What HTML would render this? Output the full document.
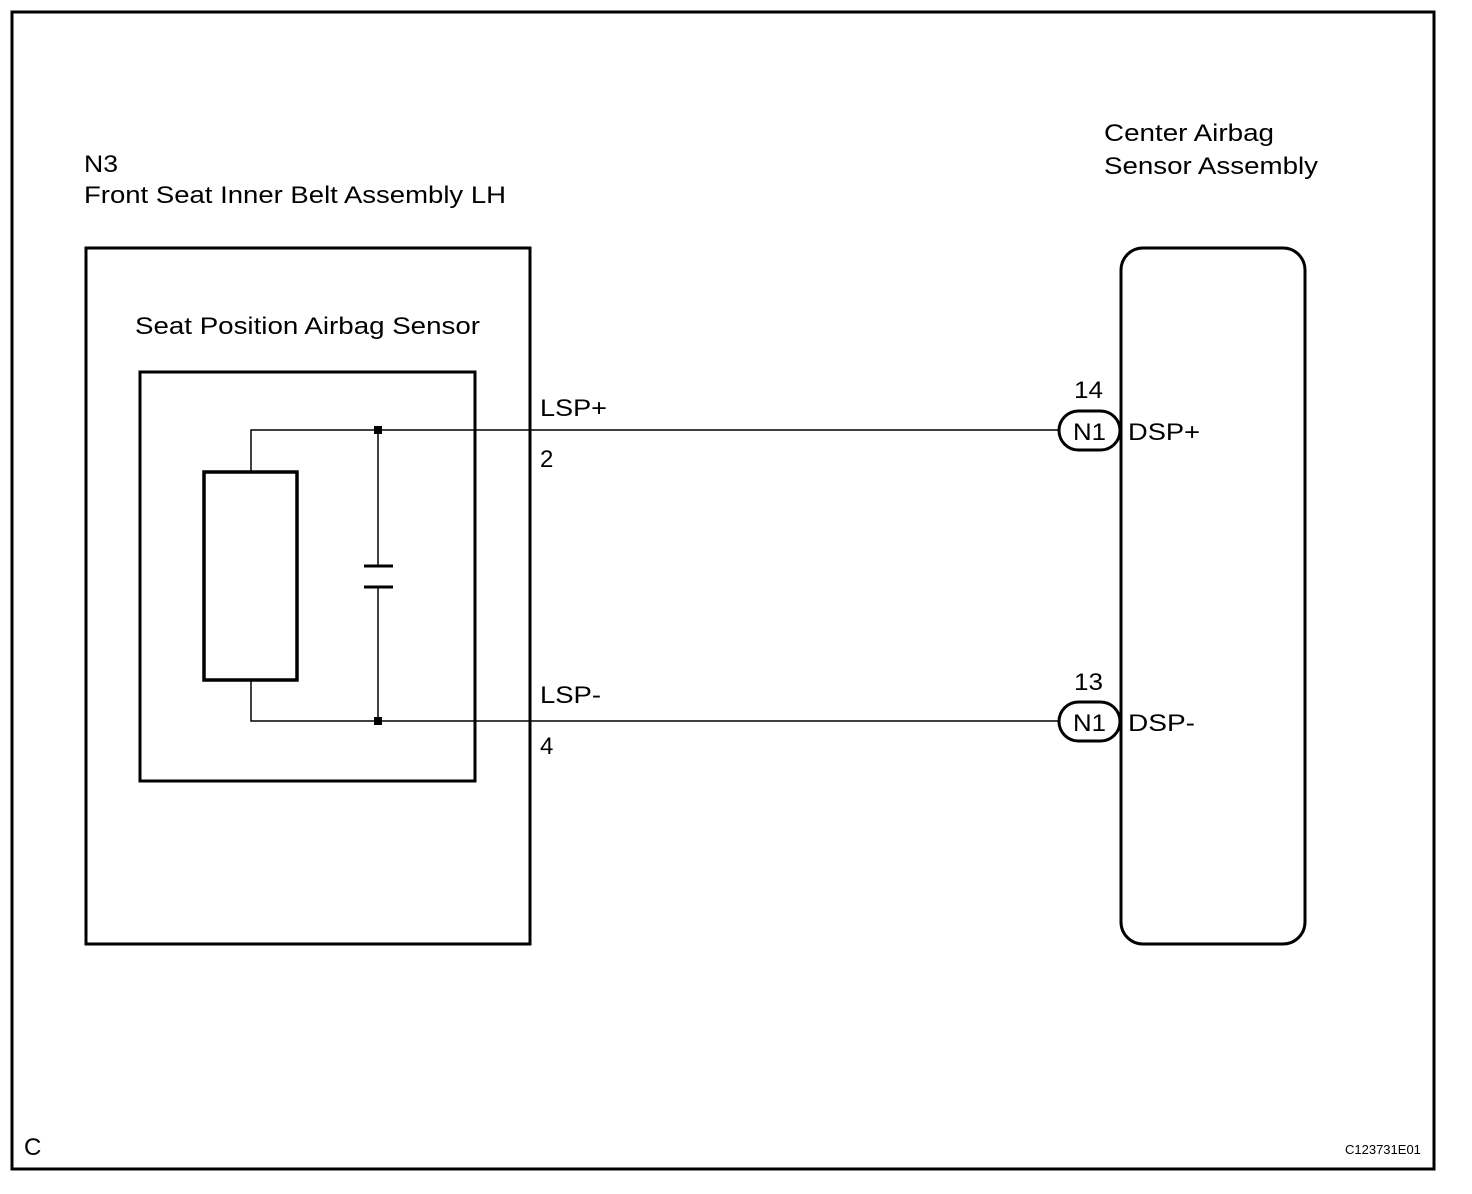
<!DOCTYPE html>
<html><head><meta charset="utf-8"><style>
html,body{margin:0;padding:0;background:#fff}
svg{display:block}
text{font-family:"Liberation Sans",Arial,sans-serif;fill:#000}
</style></head><body>
<svg width="1472" height="1194" viewBox="0 0 1472 1194" xmlns="http://www.w3.org/2000/svg">
<rect x="0" y="0" width="1472" height="1194" fill="#fff"/>
<rect x="12" y="12" width="1422" height="1157" fill="none" stroke="#000" stroke-width="3"/>
<g font-size="24">
<text x="84" y="172" textLength="34" lengthAdjust="spacingAndGlyphs">N3</text>
<text x="84" y="203" textLength="422" lengthAdjust="spacingAndGlyphs">Front Seat Inner Belt Assembly LH</text>
<text x="1104" y="141" textLength="170" lengthAdjust="spacingAndGlyphs">Center Airbag</text>
<text x="1104" y="174" textLength="214" lengthAdjust="spacingAndGlyphs">Sensor Assembly</text>
<text x="135" y="334" textLength="345" lengthAdjust="spacingAndGlyphs">Seat Position Airbag Sensor</text>
<text x="540" y="416" textLength="67" lengthAdjust="spacingAndGlyphs">LSP+</text>
<text x="540" y="467">2</text>
<text x="540" y="703" textLength="61" lengthAdjust="spacingAndGlyphs">LSP-</text>
<text x="540" y="754">4</text>
<text x="1074" y="398" textLength="29" lengthAdjust="spacingAndGlyphs">14</text>
<text x="1074" y="690" textLength="29" lengthAdjust="spacingAndGlyphs">13</text>
<text x="1128" y="440" textLength="72" lengthAdjust="spacingAndGlyphs">DSP+</text>
<text x="1128" y="731" textLength="67" lengthAdjust="spacingAndGlyphs">DSP-</text>
<text x="24" y="1155">C</text>
</g>
<text x="1345" y="1154" font-size="13">C123731E01</text>
<rect x="86" y="248" width="444" height="696" fill="none" stroke="#000" stroke-width="3"/>
<rect x="140" y="372" width="335" height="409" fill="none" stroke="#000" stroke-width="3"/>
<rect x="1121" y="248" width="184" height="696" rx="22" fill="none" stroke="#000" stroke-width="3"/>
<rect x="204" y="472" width="93" height="208" fill="none" stroke="#000" stroke-width="3.5"/>
<g stroke="#000" stroke-width="1.5" fill="none">
<polyline points="251,472 251,430 1060,430"/>
<polyline points="251,680 251,721 1060,721"/>
<line x1="378" y1="430" x2="378" y2="566"/>
<line x1="378" y1="587" x2="378" y2="721"/>
</g>
<g stroke="#000" stroke-width="3">
<line x1="364" y1="566" x2="393" y2="566"/>
<line x1="364" y1="587" x2="393" y2="587"/>
</g>
<rect x="374" y="426" width="8" height="8" fill="#000"/>
<rect x="374" y="717" width="8" height="8" fill="#000"/>
<rect x="1059" y="411" width="61" height="39" rx="19.5" fill="#fff" stroke="#000" stroke-width="3"/>
<rect x="1059" y="702" width="61" height="39" rx="19.5" fill="#fff" stroke="#000" stroke-width="3"/>
<text x="1073" y="440" font-size="24" textLength="33" lengthAdjust="spacingAndGlyphs">N1</text>
<text x="1073" y="731" font-size="24" textLength="33" lengthAdjust="spacingAndGlyphs">N1</text>
</svg>
</body></html>
